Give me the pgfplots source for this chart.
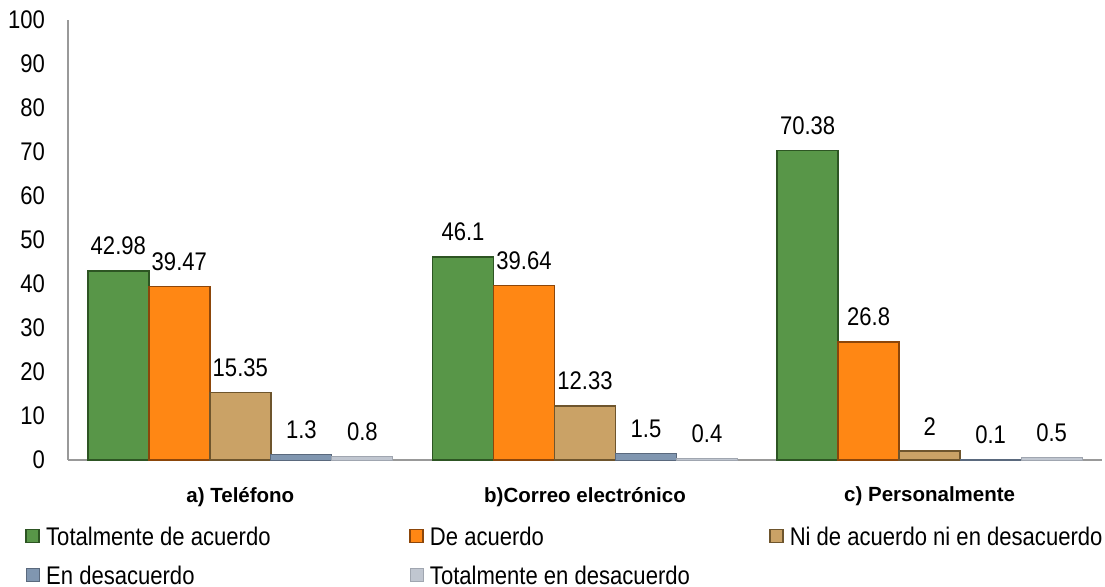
\documentclass[border=0pt]{standalone}
\usepackage{pgfplots}
\pgfplotsset{compat=1.18}
\usepackage{fontspec}
\setmainfont{Liberation Sans}[FakeStretch=0.865]
\newfontfamily\boldfont{Liberation Sans}
\definecolor{cA}{RGB}{88,150,72}
\definecolor{cAd}{RGB}{45,85,35}
\definecolor{cB}{RGB}{255,135,20}
\definecolor{cBd}{RGB}{140,70,10}
\definecolor{cC}{RGB}{202,162,102}
\definecolor{cCd}{RGB}{110,85,45}
\definecolor{cD}{RGB}{128,150,176}
\definecolor{cDd}{RGB}{90,105,125}
\definecolor{cE}{RGB}{192,198,208}
\definecolor{cEd}{RGB}{160,166,176}
\newcommand{\lf}{\fontsize{12.75}{15}\selectfont}
\begin{document}
\begin{tikzpicture}
\useasboundingbox (-34pt,-63.5pt) rectangle (518.5pt,230pt);
\begin{axis}[
  at={(0,0)}, anchor=south west,
  scale only axis, width=517pt, height=220pt,
  xmin=-0.5, xmax=2.5, ymin=0, ymax=100,
  ybar=0pt, bar width=30.5pt,
  axis x line*=bottom, axis y line*=left,
  axis line style={draw=gray!80, line width=0.6pt},
  ytick={0,10,...,100},
  xtick={0,1,2},
  xticklabels={a) Teléfono, b)Correo electrónico, c) Personalmente},
  major tick length=0pt,
  /pgf/number format/assume math mode=true,
  yticklabel style={font=\lf, xshift=-8pt},
  xticklabel style={font=\boldfont\bfseries\fontsize{10.25}{12}\selectfont, yshift=-10pt},
  nodes near coords,
  every node near coord/.append style={font=\lf, anchor=center, yshift=12.5pt},
  clip=false,
  legend columns=3,
  legend style={at={(axis description cs:-0.0416,-0.145)}, anchor=north west,
    draw=none, fill=none, inner sep=0pt, column sep=0pt, row sep=7.5pt,
    nodes={inner sep=0pt, anchor=west, font=\lf}},
  legend image code/.code={\fill[#1] (0pt,-3.25pt) rectangle (6.5pt,3.25pt); \path[draw=none,fill=none] (0pt,0pt) rectangle (10pt,0.1pt);},
]
\addplot[fill=cA, draw=cAd, line width=0.8pt] coordinates {(0,42.98) (1,46.1) (2,70.38)};
\addplot[fill=cB, draw=cBd, line width=0.8pt] coordinates {(0,39.47) (1,39.64) (2,26.8)};
\addplot[fill=cC, draw=cCd, line width=0.8pt] coordinates {(0,15.35) (1,12.33) (2,2)};
\addplot[fill=cD, draw=cDd, line width=0.4pt] coordinates {(0,1.3) (1,1.5) (2,0.1)};
\addplot[fill=cE, draw=cEd, line width=0.4pt] coordinates {(0,0.8) (1,0.4) (2,0.5)};
\addlegendentry{\makebox[181.5pt][l]{\strut Totalmente de acuerdo}}
\addlegendentry{\makebox[169.5pt][l]{\strut De acuerdo}}
\addlegendentry{\strut Ni de acuerdo ni en desacuerdo}
\addlegendentry{\makebox[181.5pt][l]{\strut En desacuerdo}}
\addlegendentry{\makebox[169.5pt][l]{\strut Totalmente en desacuerdo}}
\end{axis}
\end{tikzpicture}
\end{document}
